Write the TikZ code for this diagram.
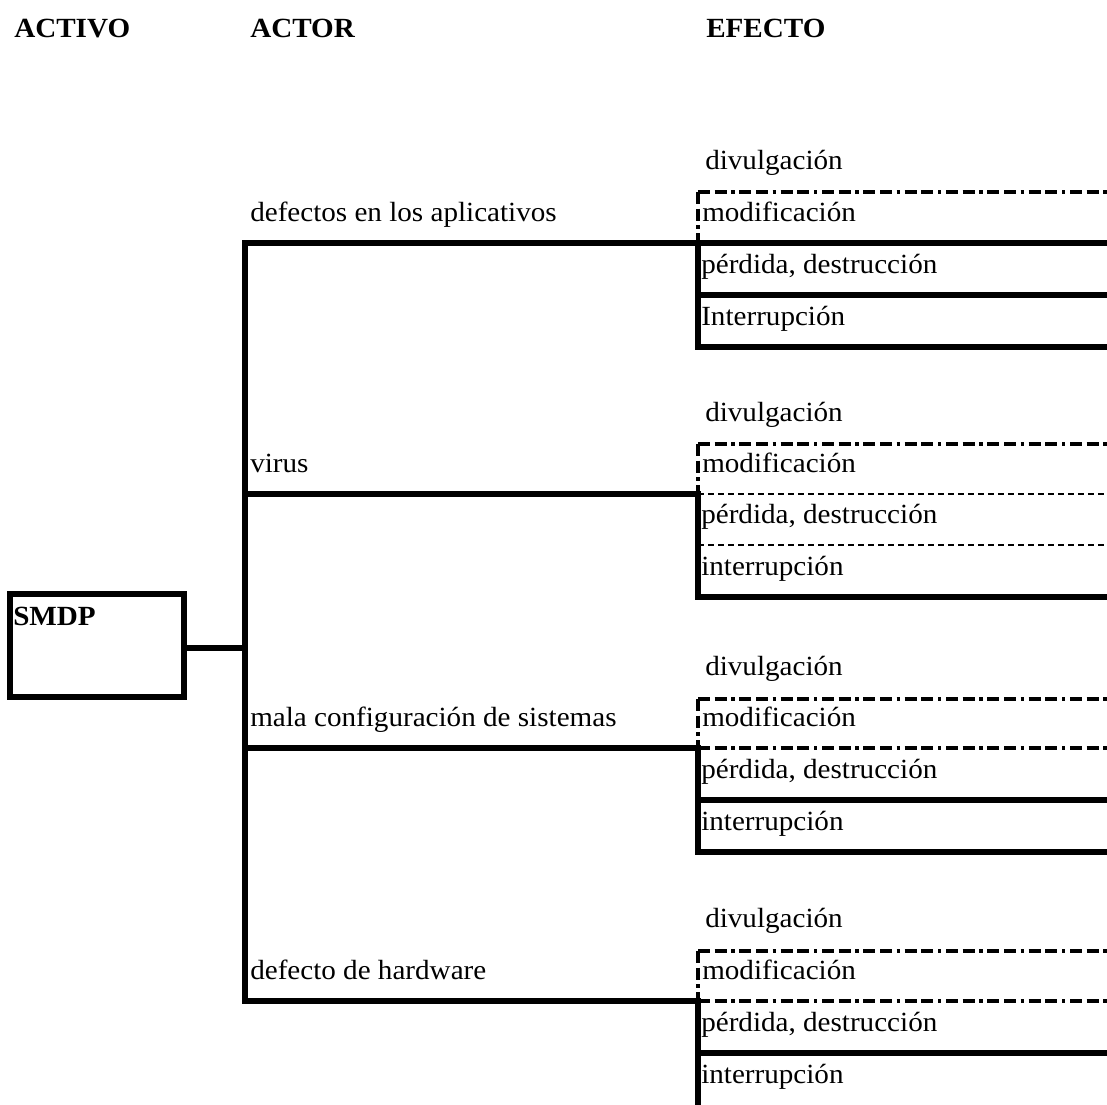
\documentclass[tikz,border=0pt]{standalone}
\usepackage{fontspec}
\setmainfont[FakeStretch=1.05]{Liberation Serif}
\begin{document}
\begin{tikzpicture}[x=0.75pt,y=-0.75pt,
  thick line/.style={line width=3.9pt,line cap=rect},
  ddline/.style={line width=2.3pt,dash pattern=on 9pt off 3.5pt on 9pt off 3.5pt on 2.5pt off 3.5pt},
  dline/.style={line width=1.4pt,dash pattern=on 4.5pt off 3pt},
  lbl/.style={anchor=base west,inner sep=0pt,font=\fontsize{20.8}{24}\selectfont},
  hdr/.style={lbl,font=\fontsize{20.8}{24}\selectfont\bfseries}]
\useasboundingbox (0,0) rectangle (1107,1104);
% headers
\node[hdr] (hactivo) at (14,37) {ACTIVO};
\node[hdr] (hactor) at (250,37) {ACTOR};
\node[hdr] (hefecto) at (706,37) {EFECTO};
% asset box
\coordinate (bTL) at (10,594);
\coordinate (bBR) at (184,697);
\draw[thick line] (bTL) rectangle (bBR);
\node[hdr] (smdp) at (13,625) {SMDP};
\coordinate (bR) at (184,648);
\coordinate (busM) at (245,648);
\coordinate (busT) at (245,243);
\coordinate (busB) at (245,1001);
\draw[thick line] (bR) -- (busM);
\draw[thick line] (busT) -- (busB);
% ---------- group 1 ----------
\coordinate (g1a) at (698,192); \coordinate (g1aR) at (1107,192);
\coordinate (g1b) at (698,243); \coordinate (g1bR) at (1107,243);
\coordinate (g1c) at (698,295); \coordinate (g1cR) at (1107,295);
\coordinate (g1d) at (698,347); \coordinate (g1dR) at (1107,347);
\draw[ddline] (g1a) -- (g1aR);
\draw[ddline] (g1a) -- (g1b);
\draw[thick line] (busT) -- (g1bR);
\draw[thick line] (g1b) -- (g1d);
\draw[thick line] (g1c) -- (g1cR);
\draw[thick line] (g1d) -- (g1dR);
\node[lbl] (a1) at (250,221) {defectos en los aplicativos};
\node[lbl] (e1a) at (705,169) {divulgación};
\node[lbl] (e1b) at (702,221) {modificación};
\node[lbl] (e1c) at (701,273) {pérdida, destrucción};
\node[lbl] (e1d) at (701,325) {Interrupción};
% ---------- group 2 ----------
\coordinate (g2a) at (698,444); \coordinate (g2aR) at (1107,444);
\coordinate (g2b) at (698,494); \coordinate (g2bR) at (1107,494);
\coordinate (g2c) at (698,545); \coordinate (g2cR) at (1107,545);
\coordinate (g2d) at (698,597); \coordinate (g2dR) at (1107,597);
\coordinate (bus2) at (245,494);
\draw[ddline] (g2a) -- (g2aR);
\draw[ddline] (g2a) -- (g2b);
\draw[thick line] (bus2) -- (g2b);
\draw[dline] (g2b) -- (g2bR);
\draw[dline] (g2c) -- (g2cR);
\draw[thick line] (g2b) -- (g2d) -- (g2dR);
\node[lbl] (a2) at (250,472) {virus};
\node[lbl] (e2a) at (705,421) {divulgación};
\node[lbl] (e2b) at (702,472) {modificación};
\node[lbl] (e2c) at (701,523) {pérdida, destrucción};
\node[lbl] (e2d) at (701,575) {interrupción};
% ---------- group 3 ----------
\coordinate (g3a) at (698,699); \coordinate (g3aR) at (1107,699);
\coordinate (g3b) at (698,748); \coordinate (g3bR) at (1107,748);
\coordinate (g3c) at (698,800); \coordinate (g3cR) at (1107,800);
\coordinate (g3d) at (698,852); \coordinate (g3dR) at (1107,852);
\coordinate (bus3) at (245,748);
\draw[ddline] (g3a) -- (g3aR);
\draw[ddline] (g3a) -- (g3b);
\draw[ddline] (g3b) -- (g3bR);
\draw[thick line] (bus3) -- (g3b);
\draw[thick line] (g3c) -- (g3cR);
\draw[thick line] (g3b) -- (g3d) -- (g3dR);
\node[lbl] (a3) at (250,726) {mala configuración de sistemas};
\node[lbl] (e3a) at (705,675) {divulgación};
\node[lbl] (e3b) at (702,726) {modificación};
\node[lbl] (e3c) at (701,778) {pérdida, destrucción};
\node[lbl] (e3d) at (701,830) {interrupción};
% ---------- group 4 ----------
\coordinate (g4a) at (698,951); \coordinate (g4aR) at (1107,951);
\coordinate (g4b) at (698,1001); \coordinate (g4bR) at (1107,1001);
\coordinate (g4c) at (698,1053); \coordinate (g4cR) at (1107,1053);
\coordinate (g4d) at (698,1104);
\draw[ddline] (g4a) -- (g4aR);
\draw[ddline] (g4a) -- (g4b);
\draw[ddline] (g4b) -- (g4bR);
\draw[thick line] (busB) -- (g4b);
\draw[thick line] (g4c) -- (g4cR);
\draw[thick line] (g4b) -- (g4d);
\node[lbl] (a4) at (250,979) {defecto de hardware};
\node[lbl] (e4a) at (705,927) {divulgación};
\node[lbl] (e4b) at (702,979) {modificación};
\node[lbl] (e4c) at (701,1031) {pérdida, destrucción};
\node[lbl] (e4d) at (701,1083) {interrupción};
\end{tikzpicture}
\end{document}
